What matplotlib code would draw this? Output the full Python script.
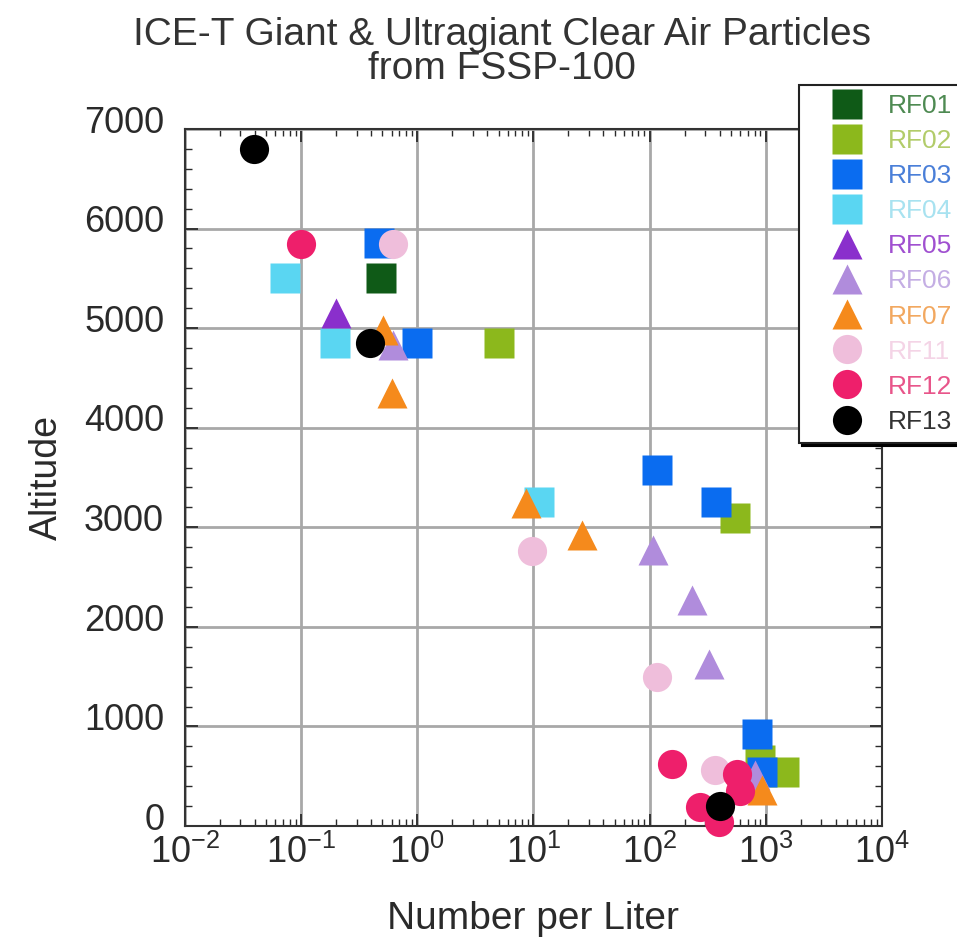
import matplotlib.pyplot as plt
import matplotlib.transforms as mtransforms
from matplotlib.lines import Line2D
from matplotlib.ticker import MultipleLocator, LogLocator, NullFormatter

plt.rcParams['font.family'] = ['Liberation Sans', 'DejaVu Sans']
plt.rcParams['mathtext.fontset'] = 'custom'
plt.rcParams['mathtext.rm'] = 'Liberation Sans'
plt.rcParams['mathtext.default'] = 'regular'

# flights: label, marker, colour, legend text colour
flights = ["RF01", "RF02", "RF03", "RF04", "RF05", "RF06", "RF07", "RF11", "RF12", "RF13"]
markers = ["s", "s", "s", "s", "^", "^", "^", "o", "o", "o"]
colors = ["#0f5a17", "#8cb81c", "#0a6cf0", "#5ad6f2", "#8a2fcc",
          "#b08cdc", "#f58a1c", "#efbedb", "#ee1f6b", "#000000"]
text_colors = ["#4e8a52", "#b2cc6a", "#4a7fd8", "#a8e2f0", "#a050d0",
               "#c4aee4", "#f2a860", "#f4d4e6", "#e8558a", "#333333"]

# number per liter / altitude
rf01_x = [0.49]
rf01_y = [5500]
rf02_x = [5.0, 540, 890, 1430]
rf02_y = [4850, 3090, 660, 540]
rf03_x = [0.47, 1.0, 115, 374, 832, 925]
rf03_y = [5850, 4850, 3580, 3250, 925, 540]
rf04_x = [0.073, 0.196, 11.2]
rf04_y = [5500, 4850, 3250]
rf05_x = [0.2]
rf05_y = [5150]
rf06_x = [0.62, 107, 230, 323, 800]
rf06_y = [4830, 2770, 2270, 1625, 510]
rf07_x = [0.51, 0.6, 8.7, 26, 925]
rf07_y = [4980, 4350, 3240, 2920, 360]
rf11_x = [0.62, 9.8, 115, 365]
rf11_y = [5840, 2760, 1495, 560]
rf12_x = [0.1, 155, 560, 600, 270, 398]
rf12_y = [5840, 620, 520, 350, 190, 40]
rf13_x = [0.039, 0.393, 400]
rf13_y = [6800, 4850, 200]

xs = [rf01_x, rf02_x, rf03_x, rf04_x, rf05_x, rf06_x, rf07_x, rf11_x, rf12_x, rf13_x]
ys = [rf01_y, rf02_y, rf03_y, rf04_y, rf05_y, rf06_y, rf07_y, rf11_y, rf12_y, rf13_y]

fig = plt.figure(figsize=(9.57, 9.42), dpi=100)
ax = fig.add_axes([0.1933, 0.1231, 0.7283, 0.740])

for i in range(len(flights)):
    ax.plot(xs[i], ys[i], ls='none', marker=markers[i], ms=21,
            color=colors[i], mec='none', zorder=3, clip_on=False)

ax.set_xscale('log')
ax.set_xlim(1e-2, 1e4)
ax.set_ylim(0, 7000)
ax.set_xticks([1e-2, 1e-1, 1e0, 1e1, 1e2, 1e3, 1e4])
ax.set_xticklabels([r'$10^{-2}$', r'$10^{-1}$', r'$10^{0}$', r'$10^{1}$',
                    r'$10^{2}$', r'$10^{3}$', r'$10^{4}$'])
ax.xaxis.set_minor_locator(LogLocator(base=10, subs=range(2, 10), numticks=20))
ax.xaxis.set_minor_formatter(NullFormatter())
ax.yaxis.set_major_locator(MultipleLocator(1000))
ax.yaxis.set_minor_locator(MultipleLocator(200))

ax.grid(True, which='major', color='#a8a8a8', lw=2, zorder=0)
ax.tick_params(which='both', direction='in', top=True, right=True,
               labelsize=26, colors='#2a2a2a')
ax.tick_params(which='major', length=9, width=1.3)
ax.tick_params(which='minor', length=5, width=1)
ax.tick_params(axis='y', which='major', pad=15)
ax.tick_params(axis='x', which='major', pad=6)
for s in ax.spines.values():
    s.set_linewidth(1.5)
    s.set_color('#333333')

# y labels sit a little above their ticks in the original
lift = mtransforms.ScaledTranslation(0, 7 / 72, fig.dpi_scale_trans)
for tk in ax.yaxis.get_major_ticks():
    tk.label1.set_transform(tk.label1.get_transform() + lift)

ax.set_xlabel('Number per Liter', fontsize=28, labelpad=22, color='#2a2a2a')
ax.set_ylabel('Altitude', fontsize=27, labelpad=14, color='#2a2a2a')

fig.text(0.525, 0.963, 'ICE-T Giant & Ultragiant Clear Air Particles',
         ha='center', va='center', fontsize=28, color='#333333')
fig.text(0.525, 0.927, 'from FSSP-100',
         ha='center', va='center', fontsize=28, color='#333333')

handles = [Line2D([], [], ls='none', marker=markers[i], ms=21, color=colors[i],
                  mec='none') for i in range(len(flights))]
leg = fig.legend(handles, flights, loc='upper left', bbox_to_anchor=(0.835, 0.91),
                 fontsize=19, frameon=True, fancybox=False, shadow={'color': 'k', 'alpha': 1},
                 edgecolor='#222222', labelspacing=0.42, handletextpad=0.1,
                 borderpad=0.35, handlelength=2.9, borderaxespad=0, framealpha=1)
leg.get_frame().set_linewidth(1.5)
for t, c in zip(leg.get_texts(), text_colors):
    t.set_color(c)

fig.savefig('out.png', dpi=100)
